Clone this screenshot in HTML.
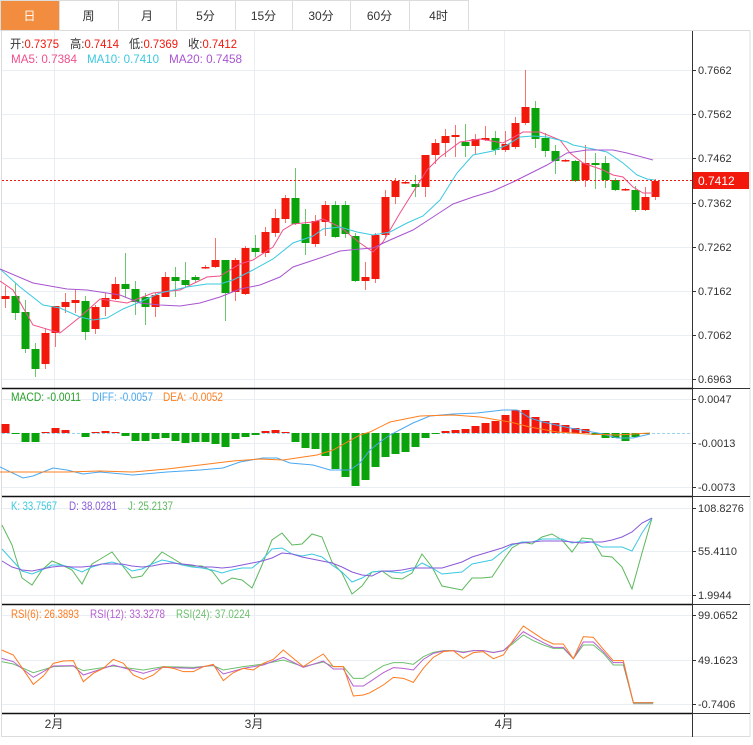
<!DOCTYPE html>
<html><head><meta charset="utf-8"><style>
html,body{margin:0;padding:0;background:#fff;width:753px;height:745px;overflow:hidden;font-family:"Liberation Sans","Noto Sans CJK SC",sans-serif}
svg{position:absolute;left:0;top:0}
</style></head><body>
<svg id="s" width="753" height="745" xmlns="http://www.w3.org/2000/svg" font-family="Liberation Sans, Noto Sans CJK SC, sans-serif"></svg>
<script>
var S=document.getElementById('s'),h='';
function L(x1,y1,x2,y2,c,w,extra){h+='<line x1="'+x1+'" y1="'+y1+'" x2="'+x2+'" y2="'+y2+'" stroke="'+c+'" stroke-width="'+(w||1)+'" '+(extra||'')+'/>';}
function R(x,y,w,hh,f,extra){h+='<rect x="'+x+'" y="'+y+'" width="'+w+'" height="'+hh+'" fill="'+f+'" '+(extra||'')+'/>';}
function T(x,y,t,c,sz,anc){h+='<text x="'+x+'" y="'+y+'" fill="'+c+'" font-size="'+(sz||12)+'"'+(anc?' text-anchor="'+anc+'"':'')+'>'+t+'</text>';}
function TL(x,y,t,c,w){h+='<text x="'+x+'" y="'+y+'" fill="'+c+'" font-size="12" textLength="'+w+'" lengthAdjust="spacingAndGlyphs">'+t+'</text>';}
function P(pts,c,w){h+='<polyline fill="none" stroke="'+c+'" stroke-width="'+(w||1)+'" points="'+pts.map(function(p){return p.join(',')}).join(' ')+'"/>';}
var tabs=['日','周','月','5分','15分','30分','60分','4时'],tx=[0,59,118,176,235,292,350,409,468];
for(var i=0;i<8;i++){R(tx[i]+0.5,0.5,tx[i+1]-tx[i],30,i==0?'#f28d3f':'#fff','stroke="#dcdcdc"');T((tx[i]+tx[i+1])/2,20,tabs[i],i==0?'#fff':'#333',12,'middle');}
R(1.5,30.5,748.5,706,'none','stroke="#dcdcdc"');
var G='#e8eef4';
[54,254,504].forEach(function(x){L(x+.5,31,x+.5,712,G)});
var ml=[['0.7662',70],['0.7562',114],['0.7462',158],['0.7362',203],['0.7262',247],['0.7162',291],['0.7062',335],['0.6963',379]];
ml.forEach(function(a){L(2,a[1]+.5,692,a[1]+.5,G);L(692,a[1]+.5,696,a[1]+.5,'#333');T(698,a[1]+4,a[0],'#333',11)});
[388,496,604,713].forEach(function(y){L(2,y+.5,692,y+.5,'#111',1.5)});
L(692.5,31,692.5,737,'#333');
L(692,604.5,750,604.5,'#333');L(692,713.5,750,713.5,'#333');L(692,388.5,750,388.5,'#333');L(692,496.5,750,496.5,'#333');
var RC='#f2180c',GC='#0ba30b';
var C=[['r',296,299,286,308],['g',296,313,283,320],['g',312,349,300,353],['g',349,369,343,377],['r',333,364,329,369],['r',306,333,306,347],['r',302,307,293,313],['r',300,303,289,313],['g',301,332,296,340],['r',307,329,305,334],['r',298,307,293,316],['r',284,299,277,300],['g',284,289,253,297],['g',289,302,281,315],['g',297,307,293,325],['r',295,307,293,317],['r',277,297,272,297],['g',277,281,267,297],['g',280,285,262,287],['g',277,280,275,283],['r',267,268,265,269],['r',260,267,238,268],['g',260,293,260,321],['r',260,292,258,301],['r',248,294,246,295],['g',248,252,235,257],['r',232,253,227,257],['r',218,233,209,237],['r',198,219,195,223],['g',198,224,168,225],['g',224,243,209,255],['r',221,244,215,247],['r',205,222,201,236],['g',205,237,201,238],['g',205,234,201,238],['g',236,281,233,282],['r',277,281,262,290],['r',235,279,233,283],['r',197,235,190,238],['r',181,197,178,204],['r',182,183,181,184],['g',184,187,175,197],['r',155,187,155,197],['r',143,155,139,164],['r',136,143,129,157],['r',135,137,125,157],['g',142,146,124,157],['r',139,146,134,154],['r',138,140,126,141],['g',138,150,131,155],['r',144,150,131,152],['r',123,147,117,149],['r',107,123,70,125],['g',108,139,101,148],['g',138,151,133,157],['g',151,161,145,174],['r',160,161,159,162],['g',161,181,160,182],['r',163,180,145,187],['g',163,165,153,189],['g',163,180,156,188],['g',180,190,178,191],['r',189,190,188,191],['g',190,210,186,212],['r',197,210,187,211],['r',181,197,179,200]];
C.forEach(function(c,i){var x=5+10*i,col=c[0]=='r'?RC:GC;L(x+.5,c[3],x+.5,c[4],col,1,'opacity="0.6"');R(x-3.5,c[1],8,Math.max(1.5,c[2]-c[1]),col);});
P([[0,281],[13,290],[33,325],[60,333],[80,317],[100,299],[127,303],[153,293],[180,290],[207,277],[220,276],[240,264],[253,260],[273,247],[283,230],[293,224],[313,222],[323,219],[340,227],[360,243],[373,252],[383,242],[400,213],[427,170],[440,157],[460,142],[480,139],[503,143],[523,132],[540,132],[560,140],[570,153],[583,163],[603,170],[613,175],[623,177],[633,187],[643,193],[653,193]],'#f0508a');
P([[0,269],[20,287],[43,305],[60,308],[80,317],[93,320],[107,318],[123,309],[140,302],[160,293],[187,287],[207,284],[220,284],[233,280],[253,270],[273,259],[293,243],[313,236],[323,229],[340,227],[357,232],[373,235],[390,232],[407,223],[423,216],[440,200],[457,173],[473,155],[493,151],[507,145],[520,137],[533,136],[547,137],[567,142],[573,145],[593,149],[607,152],[623,163],[637,175],[647,179],[655,180]],'#3cc8e0');
P([[0,269],[33,283],[67,289],[87,290],[120,295],[140,303],[160,305],[180,306],[200,303],[220,297],[240,289],[260,285],[280,277],[293,267],[320,258],[340,251],[360,249],[373,248],[390,240],[413,230],[433,217],[453,204],[473,197],[493,191],[513,182],[527,175],[547,165],[567,153],[587,150],[613,150],[627,153],[653,160]],'#a855d0');
L(2,180.5,692,180.5,'#f2180c',1,'stroke-dasharray="2,2"');
R(693,172,56,17,'#f2180c');T(698,185,'0.7412','#fff',12);
h+='<text x="10" y="48" font-size="12" fill="#333" textLength="49" lengthAdjust="spacingAndGlyphs">开:<tspan fill="#f2180c">0.7375</tspan></text>';
h+='<text x="70" y="48" font-size="12" fill="#333" textLength="49" lengthAdjust="spacingAndGlyphs">高:<tspan fill="#f2180c">0.7414</tspan></text>';
h+='<text x="129" y="48" font-size="12" fill="#333" textLength="49" lengthAdjust="spacingAndGlyphs">低:<tspan fill="#f2180c">0.7369</tspan></text>';
h+='<text x="188" y="48" font-size="12" fill="#333" textLength="49" lengthAdjust="spacingAndGlyphs">收:<tspan fill="#f2180c">0.7412</tspan></text>';
TL(11,63,'MA5: 0.7384','#f0508a',66);TL(87,63,'MA10: 0.7410','#3cc8e0',72);TL(169,63,'MA20: 0.7458','#a855d0',73);
[['0.0047',399],['-0.0013',443],['-0.0073',487]].forEach(function(a){L(2,a[1]+.5,692,a[1]+.5,G);L(692,a[1]+.5,696,a[1]+.5,'#333');T(698,a[1]+4,a[0],'#333',11)});
L(2,433.5,692,433.5,'#9ad4f0',1,'stroke-dasharray="3,2"');
var M=[424,434,442,442,432,428,430,433,437,432,431,432,436,441,441,439,438,441,443,442,442,444,447,439,437,435,431,430,432,442,448,449,456,469,477,486,480,467,457,454,452,447,438,434,431,430,429,426,423,421,415,410,410,417,421,423,425,428,429,435,438,438,441,437,434];
M.forEach(function(y,i){var x=5+10*i;var c=y<433?RC:GC;var t=Math.min(y,433),b=Math.max(y,433);if(b-t<1)return;R(x-3.5,t,8,b-t,c);});
P([[0,467],[23,478],[33,476],[53,468],[67,470],[83,474],[100,472],[133,475],[167,472],[200,470],[223,468],[240,462],[263,458],[277,458],[290,463],[313,465],[330,470],[350,470],[360,463],[370,450],[380,442],[390,435],[413,423],[430,416],[453,414],[477,413],[503,410],[517,410],[530,418],[543,422],[570,428],[603,434],[617,438],[633,438],[650,434]],'#4aa8f0');
P([[0,472],[33,472],[67,472],[100,471],[133,472],[167,469],[200,465],[233,461],[260,459],[283,460],[317,455],[333,450],[360,435],[370,432],[390,422],[420,416],[453,415],[480,417],[510,422],[530,427],[557,432],[587,434],[617,435],[650,433]],'#ff7f1e');
TL(11,401,'MACD: -0.0011','#2aa02a',70);TL(92,401,'DIFF: -0.0057','#4aa8f0',61);TL(163,401,'DEA: -0.0052','#ff7f1e',60);
[['108.8276',508],['55.4110',551],['1.9944',595]].forEach(function(a){L(2,a[1]+.5,692,a[1]+.5,G);L(692,a[1]+.5,696,a[1]+.5,'#333');T(698,a[1]+4,a[0],'#333',11)});
function seq(a){return a.map(function(y,i){return[2+10*i,y]})}
var J=[525,545,578,585,570,561,565,570,584,564,558,552,565,578,576,563,552,558,564,566,566,571,584,578,580,588,565,540,533,545,544,534,537,562,573,594,586,572,571,578,579,573,554,567,586,588,590,578,578,577,562,548,542,544,537,534,540,552,538,539,556,557,567,589,553,518];
var K=[549,560,571,574,570,565,565,568,572,567,564,562,565,571,569,564,560,562,565,567,568,570,573,570,568,568,560,549,548,554,556,554,557,565,572,582,578,572,571,572,573,570,563,568,574,573,572,564,562,560,552,545,542,542,539,539,539,543,541,542,547,547,547,551,533,518];
var D=[561,567,570,571,569,567,566,567,567,566,564,564,564,566,567,566,564,563,564,565,567,567,568,567,565,563,561,558,553,554,557,559,561,563,567,572,575,576,571,571,570,568,568,568,568,565,562,557,554,551,548,544,543,542,541,541,541,542,543,542,542,540,537,532,523,518];
P(seq(J),'#5cb85c');P(seq(K),'#3cc8e0');P(seq(D),'#8a5ad8');
TL(11,510,'K: 33.7567','#3cc8e0',46);TL(69,510,'D: 38.0281','#8a5ad8',48);TL(128,510,'J: 25.2137','#5cb85c',45);
[['99.0652',615],['49.1623',660],['-0.7406',704]].forEach(function(a){L(2,a[1]+.5,692,a[1]+.5,G);L(692,a[1]+.5,696,a[1]+.5,'#333');T(698,a[1]+4,a[0],'#333',11)});
function sx(a){return a.map(function(p){return[p[0]/3,600+p[1]/3]})}
function sx2(a){return a.map(function(p){return[370+p[0]/3,600+p[1]/3]})}
P(sx([[5,185],[40,192],[100,218],[160,200],[220,198],[250,212],[340,198],[430,210],[490,200],[580,202],[640,197],[670,210],[730,200],[790,192],[850,180],[910,200],[970,186],[1000,200],[1030,200],[1060,235],[1090,235]]).concat(sx2([[0,222],[40,197],[70,188],[100,188],[130,193],[160,170],[190,157],[220,152],[250,152],[280,156],[310,152],[340,152],[370,157],[400,152],[430,130],[460,105],[490,122],[520,135],[550,145],[580,145],[610,176],[640,135],[670,135],[700,160],[730,195],[760,195],[790,308],[850,308]])),'#6cc06c');
P(sx([[5,175],[40,185],[100,232],[160,198],[220,197],[250,225],[340,195],[430,220],[490,202],[580,205],[640,195],[670,222],[730,205],[790,195],[850,172],[910,202],[970,183],[1000,207],[1030,207],[1060,258],[1090,258]]).concat(sx2([[0,245],[40,218],[70,203],[100,205],[130,210],[160,178],[190,160],[220,153],[250,152],[280,158],[310,152],[340,152],[370,158],[400,152],[430,125],[460,95],[490,112],[520,128],[550,142],[580,142],[610,176],[640,126],[670,126],[700,155],[730,188],[760,188],[790,308],[850,308]])),'#b65fd0');
P(sx([[5,150],[40,165],[100,253],[130,228],[160,190],[190,183],[220,182],[250,245],[280,220],[310,205],[340,178],[370,190],[400,225],[430,238],[460,225],[490,200],[520,205],[550,215],[580,215],[610,200],[640,193],[670,242],[700,218],[730,205],[760,210],[790,190],[820,178],[850,150],[880,175],[910,200],[940,180],[970,162],[1000,200],[1030,200],[1060,288],[1090,285]]).concat(sx2([[0,278],[40,255],[70,232],[100,235],[130,247],[160,205],[190,172],[220,155],[250,152],[280,175],[310,158],[340,155],[370,176],[400,165],[430,120],[460,78],[490,98],[520,118],[550,132],[580,132],[610,176],[640,110],[670,112],[700,148],[730,182],[760,182],[790,308],[850,308]])),'#ff7a1e');
L(633,703.5,653,703.5,'#a8a890',1.5);
TL(11,618,'RSI(6): 26.3893','#ff7a1e',68);TL(90,618,'RSI(12): 33.3278','#b65fd0',75);TL(176,618,'RSI(24): 37.0224','#6cc06c',74);
[['2月',54],['3月',254],['4月',504]].forEach(function(a){L(a[1]+.5,713,a[1]+.5,717,'#333');T(a[1],728,a[0],'#333',12,'middle')});
S.innerHTML=h;
</script>
</body></html>
